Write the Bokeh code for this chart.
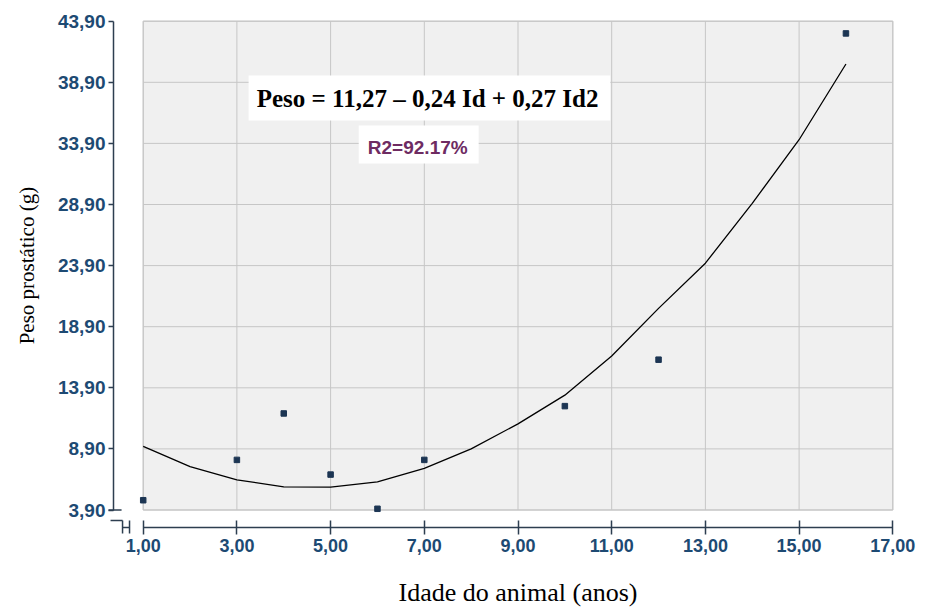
import math
from bokeh.plotting import figure
from bokeh.models import FixedTicker, Range1d, Label, BoxAnnotation, ColumnDataSource
from bokeh.embed import file_html
from bokeh.resources import INLINE

# --- data ---
idade = [1, 3, 4, 5, 6, 7, 10, 12, 16]
peso = [4.7, 8.0, 11.8, 6.8, 4.0, 8.0, 12.4, 16.2, 42.9]

curva_x = [1, 2, 3, 4, 5, 6, 7, 8, 9, 10, 11, 12, 13, 14, 15, 16]
curva_y = [9.10, 7.45, 6.37, 5.80, 5.78, 6.20, 7.30, 8.90, 10.95, 13.30, 16.50, 20.40, 24.10, 29.00, 34.20, 40.40]

x_ticks = [1, 3, 5, 7, 9, 11, 13, 15, 17]
x_labels = ["1,00", "3,00", "5,00", "7,00", "9,00", "11,00", "13,00", "15,00", "17,00"]
y_ticks = [3.9, 8.9, 13.9, 18.9, 23.9, 28.9, 33.9, 38.9, 43.9]
y_labels = ["3,90", "8,90", "13,90", "18,90", "23,90", "28,90", "33,90", "38,90", "43,90"]

equacao = "Peso = 11,27 \u2013 0,24 Id + 0,27 Id2"
r2_texto = "R2=92.17%"
titulo_x = "Idade do animal (anos)"
titulo_y = "Peso prostático (g)"

tick_col = "#1d4a73"
axis_col = "#2d3e50"
grid_col = "#c6c6c6"

# --- layout: the frame covers the whole canvas; axes are placed at fixed locations ---
X_RANGE = (-2.046, 17.762)
Y_RANGE = (-4.242, 45.594)
EIXO_Y_EM_X = 0.366   # where the detached y axis stands
EIXO_X_EM_Y = 2.468   # where the detached x axis stands

p = figure(width=928, height=609, output_backend="svg", toolbar_location=None,
           x_range=Range1d(*X_RANGE), y_range=Range1d(*Y_RANGE),
           min_border=0, min_border_left=0, min_border_right=0, min_border_top=0, min_border_bottom=0,
           background_fill_color="white", border_fill_color="white", outline_line_color=None)

p.xgrid.visible = False
p.ygrid.visible = False
xaxis = p.xaxis[0]
yaxis = p.yaxis[0]
xaxis.fixed_location = EIXO_X_EM_Y
yaxis.fixed_location = EIXO_Y_EM_X

xaxis.ticker = FixedTicker(ticks=x_ticks)
xaxis.major_label_overrides = {t: l for t, l in zip(x_ticks, x_labels)}
xaxis.bounds = (x_ticks[0], x_ticks[-1])
yaxis.ticker = FixedTicker(ticks=y_ticks)
yaxis.major_label_overrides = {t: l for t, l in zip(y_ticks, y_labels)}
yaxis.bounds = (y_ticks[0], y_ticks[-1])

for ax in (xaxis, yaxis):
    ax.axis_line_color = axis_col
    ax.axis_line_width = 1.5
    ax.major_tick_line_color = axis_col
    ax.major_tick_line_width = 1.5
    ax.minor_tick_line_color = None
    ax.major_label_text_font = "Liberation Sans"
    ax.major_label_text_font_style = "bold"
    ax.major_label_text_color = tick_col

xaxis.major_label_text_font_size = "18px"
xaxis.major_tick_in = 7
xaxis.major_tick_out = 7
xaxis.major_label_standoff = 4

yaxis.major_label_text_font_size = "19px"
yaxis.major_tick_in = 0
yaxis.major_tick_out = 5
yaxis.major_label_standoff = 3

# grey plot box and its grid
p.quad(left=[x_ticks[0]], right=[x_ticks[-1]], bottom=[y_ticks[0]], top=[y_ticks[-1]],
       fill_color="#f0f0f0", line_color="#c4c4c4", line_width=1)
p.segment(x0=x_ticks, x1=x_ticks, y0=[y_ticks[0]] * len(x_ticks), y1=[y_ticks[-1]] * len(x_ticks),
          line_color=grid_col, line_width=1)
p.segment(x0=[x_ticks[0]] * len(y_ticks), x1=[x_ticks[-1]] * len(y_ticks), y0=y_ticks, y1=y_ticks,
          line_color=grid_col, line_width=1)

# axis-break decoration at the corner of the two axes
p.segment(x0=[0.259, 0.303, 0.559, 0.559, 0.708],
          x1=[0.538, 0.559, 0.559, 0.708, 0.708],
          y0=[3.9, 3.04, 3.04, 2.468, 3.04],
          y1=[3.9, 3.04, 1.98, 2.468, 1.98],
          line_color=axis_col, line_width=1.5)

src_pts = ColumnDataSource(data=dict(x=idade, y=peso))
src_cur = ColumnDataSource(data=dict(x=curva_x, y=curva_y))

p.line("x", "y", source=src_cur, line_color="black", line_width=1.3)
p.scatter("x", "y", source=src_pts, marker="square", size=5.5, fill_color="#1c3553", line_color="#1c3553")

# equation box
p.add_layout(BoxAnnotation(left=3.25, right=10.97, bottom=35.77, top=39.46,
                           fill_color="white", fill_alpha=1.0, line_color=None))
p.add_layout(Label(x=7.07, y=37.57, text=equacao, text_align="center", text_baseline="middle",
                   text_font="Liberation Serif", text_font_style="bold", text_font_size="25px",
                   text_color="black"))
# R2 box
p.add_layout(BoxAnnotation(left=5.6, right=8.16, bottom=32.25, top=35.36,
                           fill_color="white", fill_alpha=1.0, line_color=None))
p.add_layout(Label(x=6.86, y=33.6, text=r2_texto, text_align="center", text_baseline="middle",
                   text_font="Liberation Sans", text_font_style="bold", text_font_size="19px",
                   text_color="#6e2b62"))

# axis titles
p.add_layout(Label(x=9, y=-2.85, text=titulo_x, text_align="center", text_baseline="middle",
                   text_font="Liberation Serif", text_font_size="26px", text_color="black"))
p.add_layout(Label(x=-1.47, y=23.9, text=titulo_y, text_align="center", text_baseline="middle",
                   angle=math.pi / 2, text_font="Liberation Serif", text_font_size="21px",
                   text_color="black"))

open("out.html", "w").write(file_html(p, INLINE))
